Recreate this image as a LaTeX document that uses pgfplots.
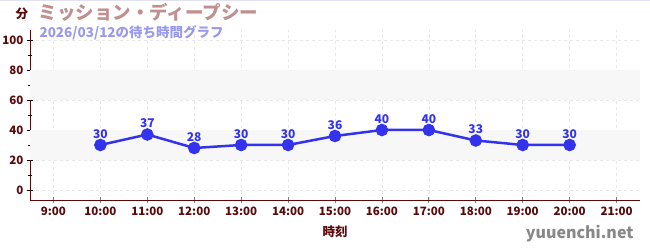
\documentclass[border=0pt]{standalone}
\usepackage{fontspec}
\setmainfont{Noto Sans CJK JP}
\usepackage{pgfplots}
\pgfplotsset{compat=1.18}
\definecolor{axred}{HTML}{5A0A0A}
\definecolor{lblue}{HTML}{3333EE}
\definecolor{ttl}{HTML}{C09090}
\definecolor{sub}{HTML}{9999EE}
\begin{document}
\begin{tikzpicture}
\useasboundingbox (0pt,0pt) rectangle (650pt,250pt);
\fill[white] (0pt,0pt) rectangle (650pt,250pt);
\draw[color={rgb,255:red,225;green,225;blue,245}] (0pt,249.5pt) -- (650pt,249.5pt);
\begin{axis}[
  at={(30pt,50pt)}, anchor=south west,
  scale only axis, width=610pt, height=170pt,
  xmin=8.5, xmax=21.5, ymin=-6.7, ymax=106.7,
  axis x line*=bottom, axis y line*=left,
  axis line style={axred, line width=0.8pt},
  xtick={9,...,21},
  xticklabels={9:00,10:00,11:00,12:00,13:00,14:00,15:00,16:00,17:00,18:00,19:00,20:00,21:00},
  ytick={0,20,...,100},
  minor ytick={10,30,50,70,90},
  tick label style={font=\fontsize{11.5}{13}\selectfont\bfseries, text=axred},
  /pgf/number format/assume math mode=true,
  xtick style={gray, line width=0.8pt},
  ytick style={black, line width=0.8pt},
  minor tick style={red, line width=0.8pt},
  major tick length=6pt, minor tick length=3pt,
  tick align=center,
  xmajorgrids, ymajorgrids,
  grid style={dash pattern=on 3pt off 3pt, color={rgb,255:red,232;green,232;blue,232}, line width=0.6pt},
  xlabel={時刻}, xlabel style={font=\fontsize{12.5}{14}\selectfont\bfseries, text=axred, yshift=-4pt},
  clip=false,
]
\fill[color={rgb,255:red,247;green,247;blue,247}] (axis cs:8.5,20) rectangle (axis cs:21.5,40);
\fill[color={rgb,255:red,247;green,247;blue,247}] (axis cs:8.5,60) rectangle (axis cs:21.5,80);
\addplot[lblue, line width=2.5pt, mark=*, mark size=5pt,
  nodes near coords,
  every node near coord/.append style={font=\fontsize{12}{14}\selectfont\bfseries, text=lblue, yshift=2pt}]
coordinates {(10,30) (11,37) (12,28) (13,30) (14,30) (15,36) (16,40) (17,40) (18,33) (19,30) (20,30)};
\end{axis}
\node[anchor=base west, font=\fontsize{12.5}{14}\selectfont\bfseries, text=axred] at (12pt,232pt) {分};
\node[anchor=base west, font=\fontsize{18.5}{20}\selectfont\bfseries, text=ttl] at (35pt,231pt) {ミッション・ディープシー};
\node[anchor=base west, font=\fontsize{13.5}{15}\selectfont\bfseries, text=sub] at (36pt,213pt) {2026/03/12の待ち時間グラフ};
\node[anchor=base east, font=\fontsize{16}{18}\selectfont\bfseries, text={rgb,255:red,136;green,136;blue,136}] at (637pt,12pt) {yuuenchi.net};
\end{tikzpicture}
\end{document}
